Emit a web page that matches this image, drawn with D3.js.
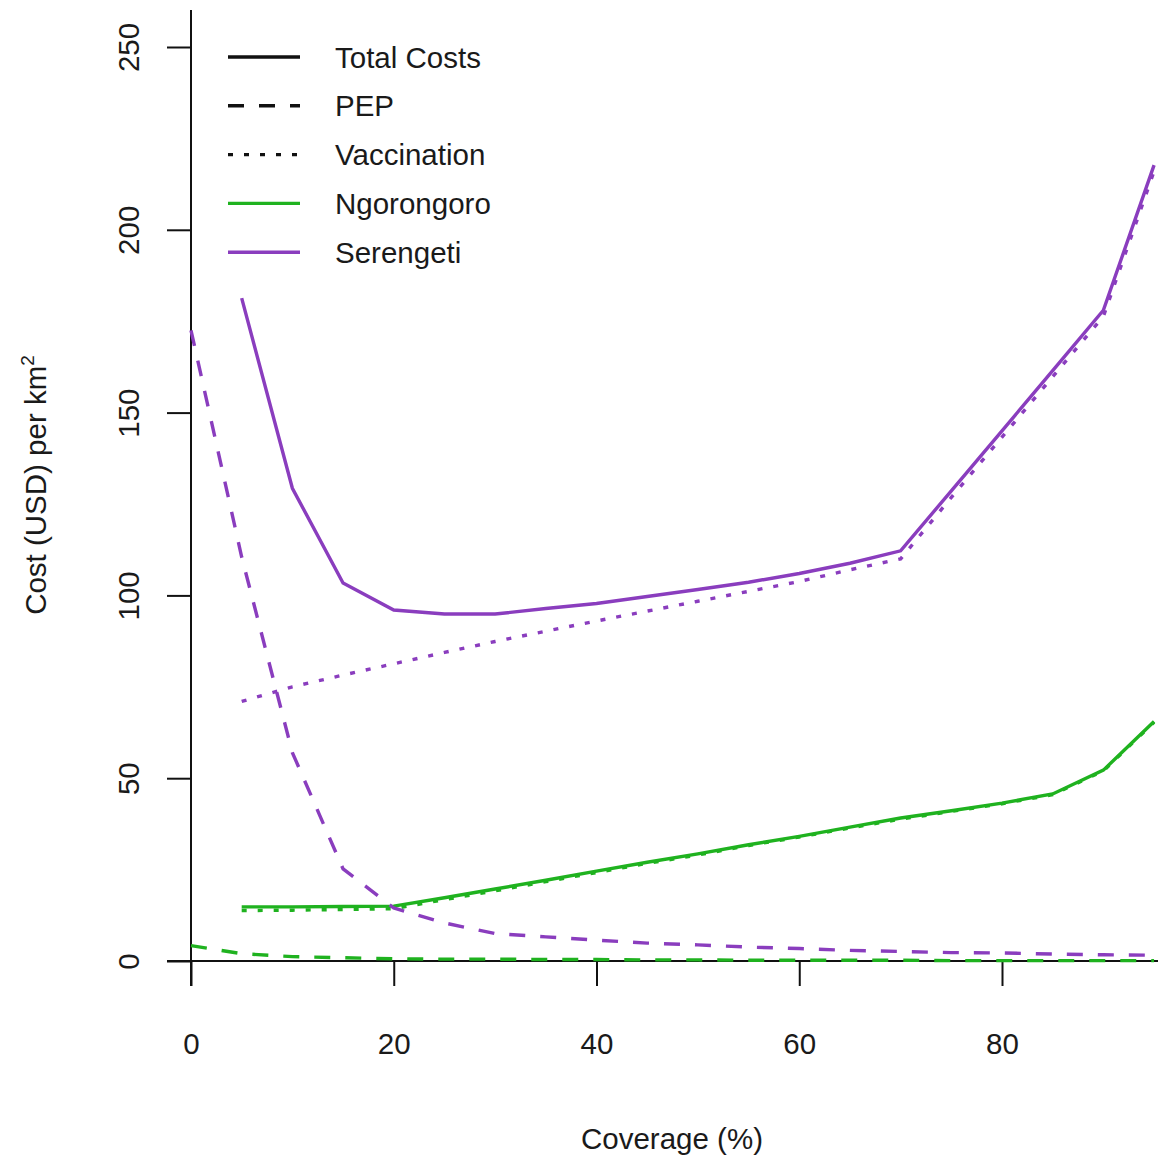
<!DOCTYPE html>
<html>
<head>
<meta charset="utf-8">
<script src="https://cdn.jsdelivr.net/npm/d3@7"></script>
<style>
  body { margin: 0; background: #fff; }
  text { font-family: "Liberation Sans", Arial, sans-serif; fill: #1a1a1a; }
</style>
</head>
<body>
<script>
// coverage (%) steps
var coverage = [0, 5, 10, 15, 20, 25, 30, 35, 40, 45, 50, 55, 60, 65, 70, 75, 80, 85, 90, 95];
var coverageFrom5 = coverage.slice(1);

// Serengeti
var serTotal = [181.3, 129.3, 103.4, 96.0, 94.9, 94.9, 96.4, 97.8, 99.7, 101.6, 103.6, 106.0, 108.8, 112.2, 128.6, 145.0, 161.5, 178.0, 217.7];
var serVacc = [71.0, 75.0, 78.2, 81.3, 84.4, 87.4, 90.2, 93.0, 95.7, 98.4, 101.1, 103.8, 107.0, 110.0, 126.8, 143.3, 159.8, 176.3, 216.0];
var serPEP = [172.5, 110.5, 57.0, 25.2, 14.5, 10.4, 7.5, 6.6, 5.7, 4.9, 4.4, 3.8, 3.4, 2.9, 2.6, 2.3, 2.2, 1.9, 1.7, 1.6];

// Ngorongoro
var ngoTotal = [14.8, 14.8, 14.9, 15.0, 17.3, 19.7, 22.1, 24.6, 27.0, 29.3, 31.8, 34.1, 36.6, 39.1, 41.1, 43.2, 45.7, 52.2, 65.5];
var ngoVacc = [13.8, 13.9, 14.1, 14.3, 16.8, 19.2, 21.7, 24.2, 26.7, 29.0, 31.6, 33.9, 36.4, 38.8, 40.9, 43.0, 45.5, 52.0, 65.3];
var ngoPEP = [4.2, 2.0, 1.2, 0.9, 0.6, 0.5, 0.5, 0.4, 0.4, 0.3, 0.3, 0.2, 0.2, 0.2, 0.2, 0.1, 0.1, 0.1, 0.1, 0.1];

var xTicks = [0, 20, 40, 60, 80];
var yTicks = [0, 50, 100, 150, 200, 250];

var legendLabels = ["Total Costs", "PEP", "Vaccination", "Ngorongoro", "Serengeti"];

var green = "#1fb21f", purple = "#8a3dbe";
var dashed = "16,15", dotted = "5,11";
var fontSize = '29.5px';

var totalWidth = 1158, totalHeight = 1157;

var svg = d3.select('body')
  .append('svg')
  .attr('width', totalWidth)
  .attr('height', totalHeight);

var xScale = d3.scaleLinear()
  .domain([0, 80])
  .range([191, 1002]);

var yScale = d3.scaleLinear()
  .domain([0, 250])
  .range([961, 47]);

// axes
var yAxisNodes = svg.append('g')
  .attr('transform', 'translate(' + xScale(0) + ',0)')
  .call(d3.axisLeft(yScale).tickValues(yTicks).tickSize(24).tickFormat(d3.format('d')));
yAxisNodes.select('.domain').remove();
yAxisNodes.selectAll('.tick line').attr('stroke', '#111').attr('stroke-width', 2);
yAxisNodes.selectAll('.tick text')
  .attr('x', 0)
  .attr('dy', '0.36em')
  .attr('transform', 'translate(-63,0) rotate(-90)')
  .style('text-anchor', 'middle')
  .style('font-size', fontSize);

var xAxisNodes = svg.append('g')
  .attr('transform', 'translate(0,' + yScale(0) + ')')
  .call(d3.axisBottom(xScale).tickValues(xTicks).tickSize(25).tickFormat(d3.format('d')));
xAxisNodes.select('.domain').remove();
xAxisNodes.selectAll('.tick line').attr('stroke', '#111').attr('stroke-width', 2);
xAxisNodes.selectAll('.tick text')
  .attr('y', 93)
  .attr('dy', 0)
  .style('font-size', fontSize);

// zero lines
svg.append('line')
  .attr('x1', xScale(0)).attr('x2', xScale(0))
  .attr('y1', 10).attr('y2', 986)
  .attr('stroke', '#111').attr('stroke-width', 2);
svg.append('line')
  .attr('x1', 167).attr('x2', totalWidth)
  .attr('y1', yScale(0)).attr('y2', yScale(0))
  .attr('stroke', '#111').attr('stroke-width', 2);

// series
var line = d3.line()
  .x(function(d) { return xScale(d[0]); })
  .y(function(d) { return yScale(d[1]); });

function drawSeries(xs, ys, color, dash) {
  svg.append('path')
    .datum(d3.zip(xs, ys))
    .attr('d', line)
    .attr('fill', 'none')
    .attr('stroke', color)
    .attr('stroke-width', 3.4)
    .attr('stroke-dasharray', dash);
}

drawSeries(coverage, ngoPEP, green, dashed);
drawSeries(coverageFrom5, ngoVacc, green, dotted);
drawSeries(coverageFrom5, ngoTotal, green, null);
drawSeries(coverage, serPEP, purple, dashed);
drawSeries(coverageFrom5, serVacc, purple, dotted);
drawSeries(coverageFrom5, serTotal, purple, null);

// legend
var legendColors = ['#111', '#111', '#111', green, purple];
var legendDash = [null, dashed, dotted, null, null];
var legend = svg.append('g');
legendLabels.forEach(function(label, i) {
  var y = 57 + i * 48.8;
  legend.append('line')
    .attr('x1', 228).attr('x2', 300)
    .attr('y1', y).attr('y2', y)
    .attr('stroke', legendColors[i])
    .attr('stroke-width', 3.4)
    .attr('stroke-dasharray', legendDash[i]);
  legend.append('text')
    .attr('x', 335).attr('y', y)
    .attr('dy', '0.36em')
    .style('font-size', fontSize)
    .text(label);
});

// axis titles
svg.append('text')
  .attr('x', 672).attr('y', 1149)
  .style('text-anchor', 'middle')
  .style('font-size', fontSize)
  .text('Coverage (%)');

var yTitle = svg.append('text')
  .attr('transform', 'translate(46,485) rotate(-90)')
  .style('text-anchor', 'middle')
  .style('font-size', fontSize);
yTitle.append('tspan').text('Cost (USD) per km');
yTitle.append('tspan')
  .attr('dy', '-0.65em')
  .style('font-size', '19px')
  .text('2');
</script>
</body>
</html>
